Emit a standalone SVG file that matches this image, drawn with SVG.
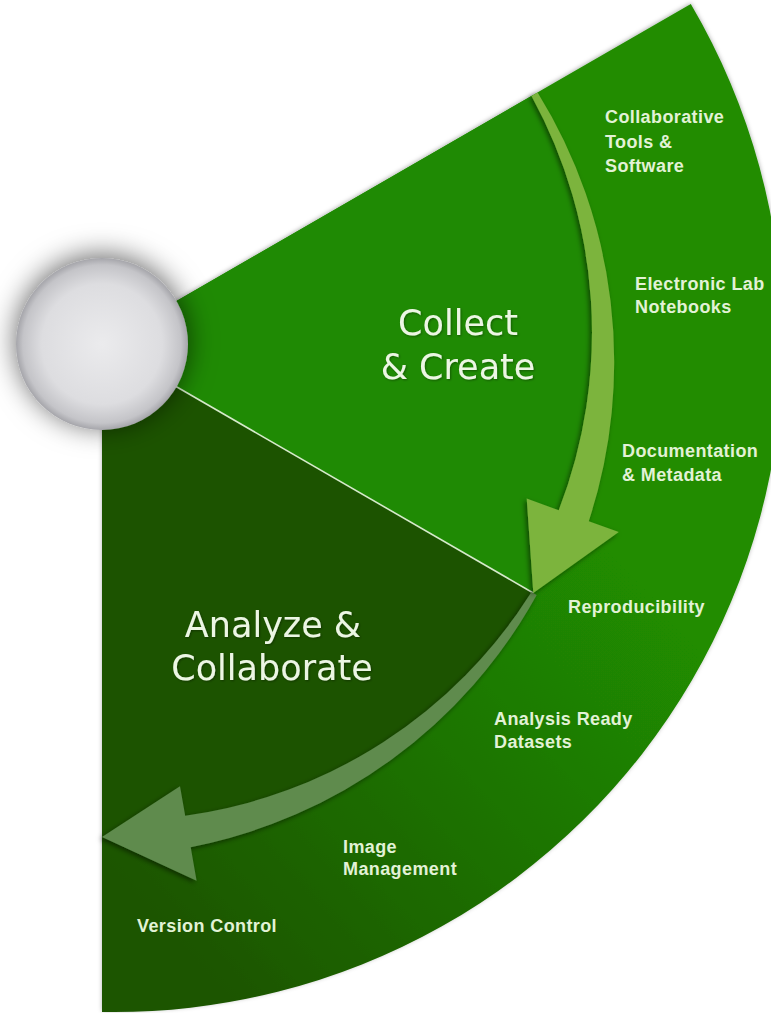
<svg xmlns="http://www.w3.org/2000/svg" width="771" height="1013" viewBox="0 0 771 1013">
  <defs>
    <linearGradient id="bandGrad" gradientUnits="userSpaceOnUse" x1="620" y1="560" x2="180" y2="960">
      <stop offset="0" stop-color="#208c02"/>
      <stop offset="1" stop-color="#1b5400"/>
    </linearGradient>
    <radialGradient id="hubGrad" cx="0.5" cy="0.5" r="0.5">
      <stop offset="0" stop-color="#ebebed"/>
      <stop offset="0.7" stop-color="#dddde0"/>
      <stop offset="0.92" stop-color="#c4c4c8"/>
      <stop offset="1" stop-color="#a5a5aa"/>
    </radialGradient>
    <filter id="arrowShadow" x="-30%" y="-10%" width="160%" height="120%">
      <feDropShadow dx="-2" dy="2" stdDeviation="2.5" flood-color="#000" flood-opacity="0.5"/>
    </filter>
    <filter id="sectorShadow" x="-10%" y="-10%" width="120%" height="120%">
      <feDropShadow dx="0" dy="-1" stdDeviation="2" flood-color="#000" flood-opacity="0.3"/>
    </filter>
    <filter id="hubShadow" x="-70%" y="-70%" width="240%" height="240%">
      <feDropShadow dx="0" dy="-3" stdDeviation="14" flood-color="#000" flood-opacity="0.6"/>
    </filter>
    <filter id="textShadow" x="-10%" y="-20%" width="120%" height="140%">
      <feDropShadow dx="1" dy="1" stdDeviation="1" flood-color="#000" flood-opacity="0.35"/>
    </filter>
  </defs>
  <style>
    .big { font-family: "DejaVu Sans", Verdana, sans-serif; font-size: 35px; fill: #ecf6e4; text-anchor: middle; }
    .small { font-family: "Liberation Sans", Arial, sans-serif; font-size: 18px; font-weight: bold; fill: #e2f2d6; letter-spacing: 0.4px; }
    .divider { stroke: #d6eacb; stroke-width: 1.6; fill: none; }
  </style>

  <rect width="771" height="1013" fill="#ffffff"/>

  <g id="fan" filter="url(#sectorShadow)">
    <path id="outer-band" d="M102,344 L690.8,4 A669,669 0 0 1 102,1012 Z" fill="url(#bandGrad)"/>
  </g>

  <g id="collect-create">
    <path d="M102,344 L533.3,95 A498,498 0 0 1 533.3,593 Z" fill="#1f8a04"/>
    <text class="big" x="458" y="335" filter="url(#textShadow)">Collect</text>
    <text class="big" x="458" y="379" filter="url(#textShadow)">&amp; Create</text>
  </g>

  <g id="analyze-collaborate">
    <path d="M102,344 L533.3,593 A498,498 0 0 1 102,842 Z" fill="#1c5300"/>
    <text class="big" x="273" y="637" filter="url(#textShadow)">Analyze &amp;</text>
    <text class="big" x="272" y="680" filter="url(#textShadow)">Collaborate</text>
  </g>

  <line class="divider" x1="170" y1="383" x2="533.3" y2="593"/>

  <g id="connectors">
    <path id="arrow-analyze" d="M531.5,592 L536.7,595 A506,506 0 0 1 190.7,847.2 L196.6,880.7 L102,837 L180,786.2 L185.2,815.7 A487,487 0 0 0 531.5,592 Z" fill="#5e8b4e" filter="url(#arrowShadow)"/>
    <path id="arrow-collect" d="M531.5,96 L537.6,92.5 A512,512 0 0 1 588.8,521.2 L618.8,532.1 L533.3,593 L526.7,498.6 L558.7,510.2 A492,492 0 0 0 531.5,96 Z" fill="#7bb43e" filter="url(#arrowShadow)"/>
  </g>

  <g id="hub">
    <circle cx="102" cy="344" r="86" fill="url(#hubGrad)" filter="url(#hubShadow)"/>
  </g>

  <g id="label-collaborative-tools">
    <text class="small" x="605" y="123">Collaborative</text>
    <text class="small" x="605" y="148">Tools &amp;</text>
    <text class="small" x="605" y="172">Software</text>
  </g>
  <g id="label-eln">
    <text class="small" x="635" y="290">Electronic Lab</text>
    <text class="small" x="635" y="313">Notebooks</text>
  </g>
  <g id="label-documentation">
    <text class="small" x="622" y="457">Documentation</text>
    <text class="small" x="622" y="481">&amp; Metadata</text>
  </g>
  <g id="label-reproducibility">
    <text class="small" x="568" y="613">Reproducibility</text>
  </g>
  <g id="label-datasets">
    <text class="small" x="494" y="725">Analysis Ready</text>
    <text class="small" x="494" y="748">Datasets</text>
  </g>
  <g id="label-image">
    <text class="small" x="343" y="853">Image</text>
    <text class="small" x="343" y="875">Management</text>
  </g>
  <g id="label-version">
    <text class="small" x="137" y="932">Version Control</text>
  </g>
</svg>
